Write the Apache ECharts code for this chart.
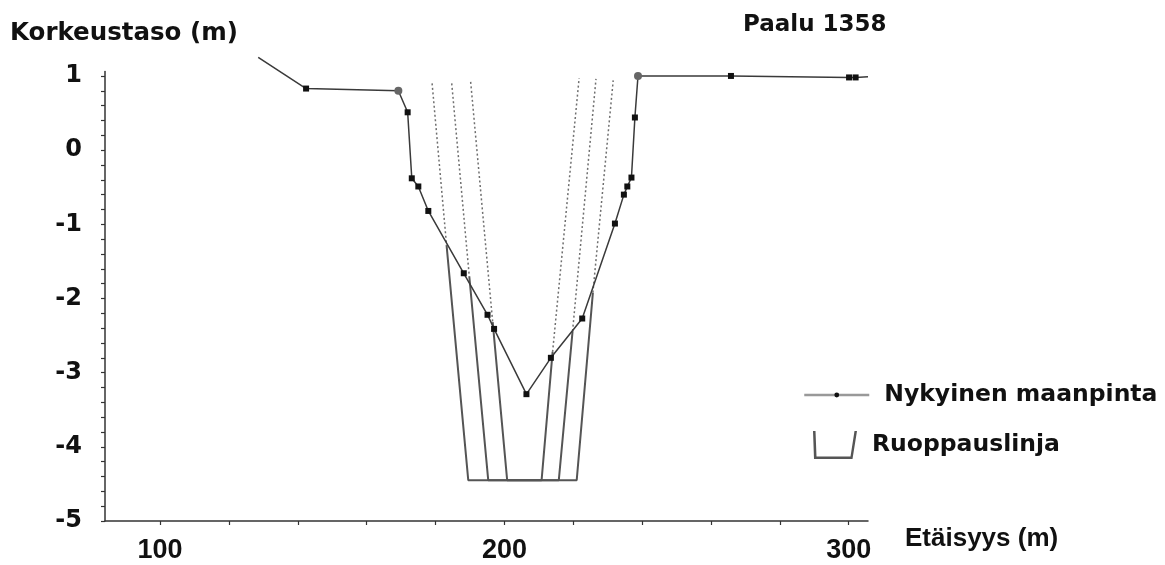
<!DOCTYPE html>
<html>
<head>
<meta charset="utf-8">
<script src="https://cdn.jsdelivr.net/npm/echarts@6/dist/echarts.min.js"></script>
<style>
  html, body { margin: 0; padding: 0; background: #fff; }
  #chart { width: 1165px; height: 565px; }
</style>
</head>
<body>
<div id="chart"></div>
<script>
// nykyinen maanpinta (etäisyys m, korkeus m)
var groundX = [128.5, 142.4, 169.2, 171.9, 173.1, 175.0, 177.9, 188.2, 195.1, 197.0, 206.4, 213.5,
               222.6, 232.1, 234.7, 235.7, 236.9, 237.9, 238.8, 265.8, 300.1, 302.0, 305.6];
var groundY = [1.25, 0.83, 0.80, 0.51, -0.38, -0.49, -0.82, -1.66, -2.22, -2.41, -3.29, -2.80,
               -2.27, -0.99, -0.60, -0.49, -0.37, 0.44, 1.00, 1.00, 0.98, 0.98, 0.99];

// ruoppauslinjat: ulompi, keski, sisempi
var dredgeBottomY = -4.45;
var leftBottomX = [189.5, 195.3, 200.8];
var rightBottomX = [221.0, 215.8, 210.8];
var leftCross = [[183.2, -1.28], [189.8, -1.70], [196.6, -2.32]];
var rightCross = [[225.7, -1.92], [219.8, -2.44], [214.0, -2.72]];
var leftTop = [[179.0, 0.90], [184.7, 0.90], [190.2, 0.92]];
var rightTop = [[231.6, 0.94], [226.6, 0.96], [221.7, 0.97]];

var xLabels = [100, 200, 300];
var xTicks = [100, 120, 140, 160, 180, 200, 220, 240, 260, 280, 300];
var yLabels = [-5, -4, -3, -2, -1, 0, 1];

var yTicks = [];
for (var k = 0; k <= 30; k++) yTicks.push(Math.round((-5 + k * 0.2) * 10) / 10);

var boldFont = 'DejaVu Sans';

var groundData = groundX.map(function (x, i) {
    var p = { value: [x, groundY[i]], symbol: 'rect' };
    if (i === 0 || i === groundX.length - 1) p.symbol = 'none';
    if (i === 2 || i === 18) {
        p.symbol = 'circle';
        p.symbolSize = 8;
        p.itemStyle = { color: '#666' };
    }
    return p;
});

var series = [];
for (var i = 0; i < 3; i++) {
    // katkoviivat maanpinnan yläpuolella
    series.push({
        type: 'line', name: 'apu', symbol: 'none', silent: true,
        lineStyle: { color: '#6f6f6f', width: 1.5, type: [2, 2.5] },
        data: [leftTop[i], leftCross[i]]
    });
    series.push({
        type: 'line', name: 'apu', symbol: 'none', silent: true,
        lineStyle: { color: '#6f6f6f', width: 1.5, type: [2, 2.5] },
        data: [rightCross[i], rightTop[i]]
    });
}
for (var j = 0; j < 3; j++) {
    series.push({
        type: 'line', name: 'Ruoppauslinja', symbol: 'none',
        itemStyle: { color: '#555' },
        lineStyle: { color: '#555', width: 2 },
        data: [leftCross[j], [leftBottomX[j], dredgeBottomY], [rightBottomX[j], dredgeBottomY], rightCross[j]]
    });
}
series.push({
    type: 'line', name: 'Nykyinen maanpinta',
    symbol: 'circle', symbolSize: 6, clip: false,
    itemStyle: { color: '#111' },
    lineStyle: { color: '#3a3a3a', width: 1.5 },
    data: groundData
});

var option = {
    backgroundColor: '#fff',
    animation: false,
    title: [
        { text: 'Korkeustaso (m)', left: 10, top: 21, padding: 0,
          textStyle: { fontFamily: boldFont, fontWeight: 'bold', fontSize: 24.5, color: '#111' } },
        { text: 'Paalu 1358', left: 743, top: 14, padding: 0,
          textStyle: { fontFamily: boldFont, fontWeight: 'bold', fontSize: 23, color: '#111' } },
        { text: 'Etäisyys (m)', left: 905, top: 526, padding: 0,
          textStyle: { fontFamily: 'Liberation Sans', fontWeight: 'bold', fontSize: 26, color: '#111' } }
    ],
    legend: [
        {
            data: ['Nykyinen maanpinta'], left: 803, top: 383, padding: 0,
            itemWidth: 65, itemHeight: 6, selectedMode: false,
            lineStyle: { color: '#999', width: 2.5 },
            itemStyle: { color: '#111' },
            textStyle: { fontFamily: boldFont, fontWeight: 'bold', fontSize: 23.5, color: '#111', padding: [0, 0, 0, 10] }
        },
        {
            data: [{ name: 'Ruoppauslinja',
                     icon: 'path://M0,0 L2.5,0 L3.5,25.5 L37.5,25.5 L41.5,0 L44,0 L39.5,28 L1,28 Z' }],
            left: 813, top: 431, padding: 0,
            itemWidth: 44, itemHeight: 28, selectedMode: false,
            itemStyle: { color: '#555' },
            textStyle: { fontFamily: boldFont, fontWeight: 'bold', fontSize: 23.5, color: '#111', padding: [0, 0, 0, 10] }
        }
    ],
    grid: { left: 105, right: 297, top: 71.5, bottom: 44, outerBoundsMode: 'none' },
    xAxis: {
        type: 'value', min: 84, max: 305.6,
        splitLine: { show: false },
        axisLine: { show: true, onZero: false, lineStyle: { color: '#333', width: 1.5 } },
        axisTick: { show: true, length: 4, customValues: xTicks, lineStyle: { color: '#333', width: 1.2 } },
        axisLabel: {
            customValues: xLabels, margin: 16,
            fontFamily: 'Liberation Sans', fontWeight: 'bold', fontSize: 27, color: '#111'
        }
    },
    yAxis: {
        type: 'value', min: -5, max: 1.06,
        splitLine: { show: false },
        axisLine: { show: true, onZero: false, lineStyle: { color: '#333', width: 1.5 } },
        axisTick: { show: true, length: 4, customValues: yTicks, lineStyle: { color: '#333', width: 1.2 } },
        axisLabel: {
            customValues: yLabels, margin: 23,
            fontFamily: boldFont, fontWeight: 'bold', fontSize: 24, color: '#111'
        }
    },
    series: series
};

var myChart = echarts.init(document.getElementById('chart'));
myChart.setOption(option, true);
</script>
</body>
</html>
